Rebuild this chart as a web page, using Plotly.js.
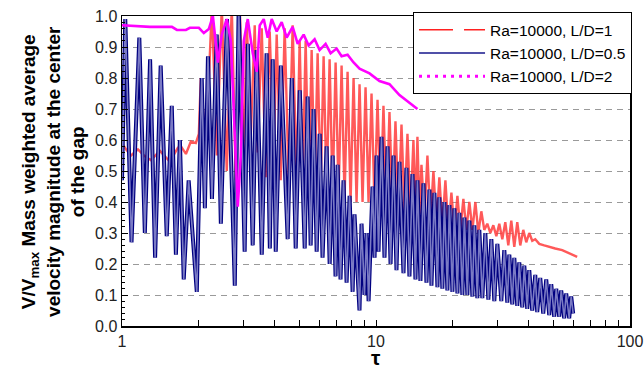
<!DOCTYPE html>
<html>
<head>
<meta charset="utf-8">
<script src="https://cdn.plot.ly/plotly-3.0.1.min.js"></script>
<style>body{margin:0;background:#fff}#chart{width:644px;height:370px}</style>
</head>
<body>
<div id="chart"></div>
<script>
// Ra=10000, L/D=1 (red)
const tauRed = [1.00,1.037,1.085,1.156,1.22,1.30,1.41,1.544,1.66,1.706,
1.785,1.867,1.953,2.007,2.043,2.10,2.138,2.258,2.363,2.471,
2.585,2.705,2.805,2.909,3.016,3.099,3.213,3.331,3.423,3.549,
3.68,3.815,3.956,4.065,4.215,4.37,4.531,4.698,4.872,5.005,
5.143,5.285,5.431,5.58,5.733,5.891,6.053,6.22,6.391,6.567,
6.748,6.934,7.124,7.32,7.521,7.728,7.941,8.16,8.384,8.614,
8.852,9.096,9.346,9.603,9.867,10.14,10.42,10.70,11.00,11.30,
11.61,11.93,12.26,12.60,12.95,13.30,13.67,14.04,14.30,14.56,
14.83,15.10,15.52,15.94,16.38,16.83,17.30,17.76,18.25,18.76,
19.27,19.81,20.35,20.92,21.48,22.08,22.68,23.31,23.96,24.62,
25.29,25.98,26.69,27.43,28.19,28.97,29.77,30.58,31.42,32.29,
33.18,34.09,35.03,35.99,36.98,38.00,39.05,40.12,41.22,42.36,
43.92,45.95,48.08,50.77,54.09,57.62,61.94];
const valRed = [.59,.57,.55,.57,.55,.535,.565,.53,.575,.58,
.555,.595,.59,.62,.80,.66,.56,1.03,.55,1.03,
.50,1.03,.47,1.03,.55,.98,.61,.97,.56,.96,
.48,.95,.55,.94,.47,.96,.47,.97,.46,.92,
.47,.92,.45,.89,.45,.88,.44,.87,.43,.86,
.42,.85,.42,.84,.41,.82,.40,.80,.40,.78,
.40,.77,.40,.75,.39,.73,.39,.71,.38,.69,
.38,.66,.37,.65,.37,.62,.36,.60,.36,.61,
.36,.52,.35,.55,.34,.50,.33,.48,.32,.47,
.31,.43,.31,.42,.31,.41,.31,.40,.31,.40,
.30,.37,.31,.33,.30,.325,.29,.33,.28,.335,
.26,.34,.255,.335,.26,.31,.27,.30,.275,.28,
.265,.26,.255,.25,.245,.235,.223];

// Ra=10000, L/D=0.5 (blue)
const tauBlue = [1.00,1.03,1.09,1.17,1.23,1.29,1.35,1.42,1.50,1.57,
1.63,1.69,1.75,1.83,1.97,2.06,2.12,2.18,2.26,2.36,
2.45,2.59,2.78,2.88,3.04,3.13,3.27,3.39,3.55,3.71,
3.82,3.92,4.03,4.22,4.49,4.66,4.83,5.01,5.24,5.38,
5.53,5.68,5.84,6.00,6.16,6.39,6.57,6.75,6.93,7.06,
7.25,7.45,7.66,7.87,8.09,8.23,8.61,8.77,9.01,9.18,
9.35,9.69,9.87,10.05,10.23,10.51,10.80,11.10,11.41,11.72,
12.04,12.37,12.83,13.18,13.54,13.92,14.30,14.56,14.96,15.38,
15.80,16.23,16.53,16.98,17.45,17.76,18.25,18.59,19.10,19.45,
19.99,20.35,20.92,21.29,21.88,22.28,22.89,23.31,23.96,24.39,
25.06,25.51,26.22,26.94,27.69,28.45,29.23,30.04,31.14,32.00,
32.88,33.48,34.40,35.03,35.99,36.65,37.66,38.35,39.40,40.12,
41.22,42.36,43.13,44.32,45.54,46.79,48.08,48.96,50.31,51.23,
52.64,53.60,55.07,56.08,57.62,58.67,59.74];
const valBlue = [.47,.99,.27,.93,.30,.86,.22,.84,.29,.71,
.23,.60,.15,.47,.11,.80,.38,.87,.41,.94,
.33,.99,.13,1.03,.24,.91,.26,.89,.23,.88,
.25,.86,.24,.84,.28,.80,.25,.76,.25,.74,
.26,.70,.24,.62,.22,.58,.20,.55,.16,.52,
.15,.47,.14,.42,.11,.36,.05,.33,.10,.30,
.08,.45,.22,.55,.24,.61,.22,.58,.20,.55,
.18,.53,.17,.51,.16,.49,.15,.47,.145,.46,
.14,.44,.13,.43,.125,.415,.12,.40,.115,.39,
.11,.38,.105,.365,.10,.35,.10,.34,.095,.325,
.09,.31,.09,.30,.085,.28,.08,.265,.08,.245,
.075,.23,.07,.22,.065,.205,.06,.195,.055,.18,
.05,.165,.045,.155,.04,.15,.035,.135,.03,.12,
.03,.115,.025,.105,.025,.095,.04];

// Ra=10000, L/D=2 (magenta)
const tauMag = [1.00,1.288,1.572,1.645,1.785,1.85,2.007,2.10,2.197,2.279,
2.384,2.471,2.585,2.681,2.779,2.857,2.935,3.016,3.127,3.272,
3.392,3.485,3.614,3.747,3.885,4.065,4.253,4.45,4.698,4.916,
5.19,5.431,5.733,5.998,6.333,6.627,6.997,7.32,7.728,8.16,
8.614,9.43,10.32,11.30,12.37,13.54,14.56];
const valMag = [.97,.965,.965,.955,.955,.962,.962,.945,.958,1.0,
.85,.94,.99,.92,.62,.385,.55,.92,.99,.88,
.82,.97,.99,.93,.99,.95,.98,.93,.965,.91,
.94,.905,.925,.89,.91,.88,.895,.87,.875,.85,
.83,.815,.79,.78,.745,.72,.70];

const seriesNames = ['Ra=10000, L/D=1','Ra=10000, L/D=0.5','Ra=10000, L/D=2'];
const xMajorTicks = [1,10,100];
const xMinorTicks = [2,3,4,5,6,7,8,9,20,30,40,50,60,70,80,90];
const xTitle = 'τ';
const yTitle = 'V/V<sub>max</sub> Mass weighted average<br>velocity magnitude at the center<br>of the gap';

const traces = [
  {x:tauRed, y:valRed, mode:'lines', line:{color:'#ff3c3c', width:2.4}, opacity:0.85, showlegend:false, hoverinfo:'skip'},
  {x:tauBlue, y:valBlue, mode:'lines', line:{color:'#000080', width:4}, showlegend:false, hoverinfo:'skip'},
  {x:tauBlue, y:valBlue, mode:'lines', line:{color:'#7b7bc4', width:1.6}, showlegend:false, hoverinfo:'skip'},
  {x:tauMag, y:valMag, mode:'lines', line:{color:'#ff00ff', width:2.6}, showlegend:false, hoverinfo:'skip'},
  {x:[null], y:[null], mode:'lines', name:seriesNames[0], line:{color:'#ff2020', width:1.5, dash:'34px,11px'}},
  {x:[null], y:[null], mode:'lines', name:seriesNames[1], line:{color:'#5050a8', width:2}},
  {x:[null], y:[null], mode:'lines', name:seriesNames[2], line:{color:'#ff00ff', width:3, dash:'3px,5px'}}
];

const layout = {
  width:644, height:370,
  margin:{l:122, r:12, t:16, b:44},
  paper_bgcolor:'#fff', plot_bgcolor:'#fff',
  font:{family:'"Liberation Sans", Arial, sans-serif', size:16, color:'#222'},
  showlegend:true,
  xaxis:{type:'log', range:[0,2], tickmode:'array', tickvals:xMajorTicks, ticktext:['1','10','100'],
    ticks:'inside', ticklen:6, tickcolor:'#000', tickwidth:1,
    minor:{tickmode:'array', tickvals:xMinorTicks, ticks:'inside', ticklen:6, tickcolor:'#000', showgrid:false},
    showline:true, mirror:true, linecolor:'#000', linewidth:1.5,
    showgrid:false, zeroline:false},
  yaxis:{range:[0,1], dtick:0.1, tick0:0, tickformat:'.1f',
    ticks:'inside', ticklen:6, tickcolor:'#000', tickwidth:1,
    showline:true, mirror:true, linecolor:'#000', linewidth:1.5,
    showgrid:true, gridcolor:'#9a9a9a', gridwidth:1, griddash:'6px,5px', zeroline:false,
    minor:{dtick:0.02, tick0:0, ticks:'inside', ticklen:3, tickcolor:'#000', showgrid:false}},
  annotations:[
    {text:yTitle, xref:'paper', yref:'paper', x:-0.136, y:0.5, xanchor:'center', yanchor:'middle',
      textangle:-90, showarrow:false, font:{size:19, color:'#000', weight:'bold'}},
    {text:xTitle, xref:'paper', yref:'paper', x:0.5, y:-0.1, xanchor:'center', yanchor:'middle',
      showarrow:false, font:{size:21, color:'#000', weight:'bold'}}
  ],
  legend:{x:1.004, xanchor:'right', y:1.012, yanchor:'top', bgcolor:'#fff',
    bordercolor:'#000', borderwidth:1, font:{size:15.5, color:'#000'}, itemwidth:66,
    tracegroupgap:0}
};

Plotly.newPlot('chart', traces, layout, {displayModeBar:false, staticPlot:true});
</script>
</body>
</html>
